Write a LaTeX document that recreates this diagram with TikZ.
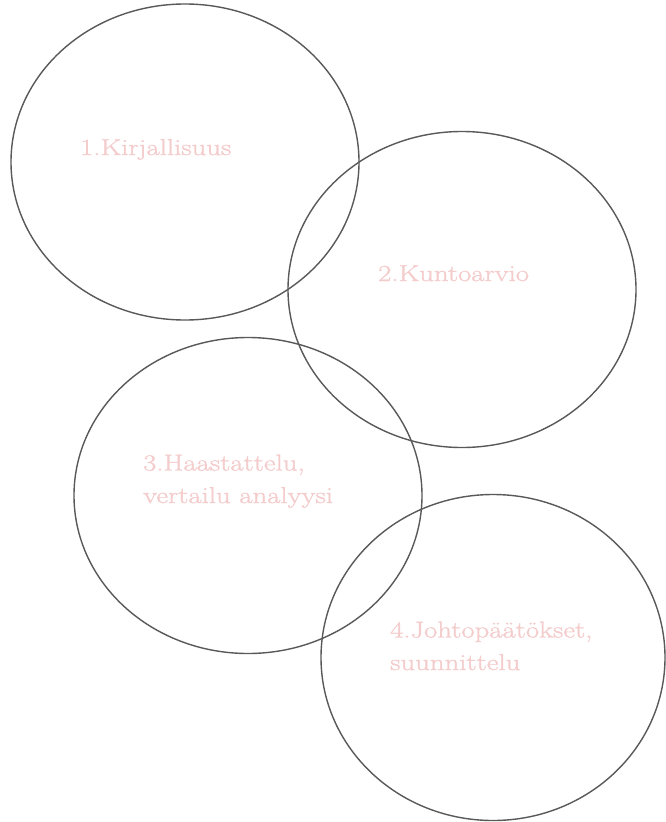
\documentclass[tikz,border=0pt]{standalone}
\usepackage{fontspec}
\setmainfont{Latin Modern Roman}
\newfontfamily\pfont[FakeStretch=1.25, FakeBold=1.2]{Latin Modern Roman}
\definecolor{ringgray}{HTML}{595959}
\definecolor{labelpink}{HTML}{F4CCCC}
\begin{document}
\begin{tikzpicture}[x=1pt,y=-1pt,
  ring/.style={draw=ringgray, line width=1.4pt},
  lbl/.style={text=labelpink, inner sep=0pt, anchor=base west, align=left,
    font=\pfont\fontsize{23}{32.5}\selectfont}]
\useasboundingbox[fill=white] (0,0) rectangle (665,822);
\draw[ring] (185,162) ellipse [x radius=174, y radius=158];
\draw[ring] (462,289.5) ellipse [x radius=174, y radius=158];
\draw[ring] (248,495.5) ellipse [x radius=174, y radius=158];
\draw[ring] (493,657.5) ellipse [x radius=172, y radius=163];
\node[lbl] (t1) at (80,155) {1.Kirjallisuus};
\node[lbl] (t2) at (378,281) {2.Kuntoarvio};
\node[lbl] (t3) at (143,503) {3.Haastattelu,\\vertailu analyysi};
\node[lbl] (t4) at (390,670) {4.Johtopäätökset,\\suunnittelu};
\end{tikzpicture}
\end{document}
